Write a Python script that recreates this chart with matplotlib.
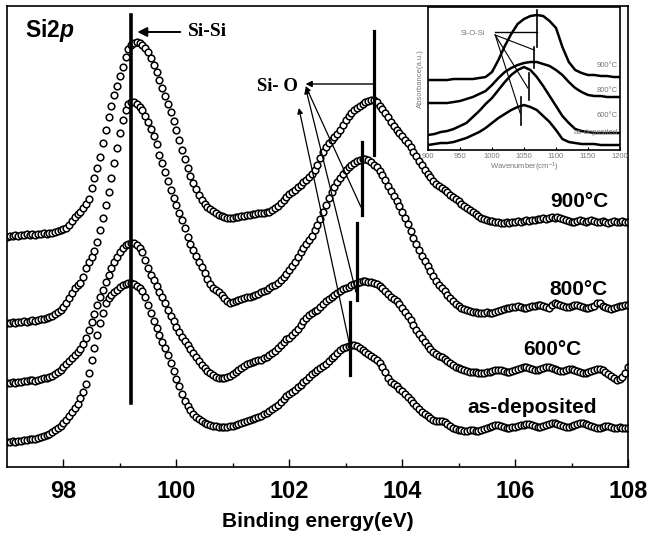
import numpy as np
import matplotlib.pyplot as plt

plt.rcParams['font.family'] = ['Liberation Sans', 'DejaVu Sans']
plt.rcParams['mathtext.fontset'] = 'custom'
plt.rcParams['mathtext.rm'] = 'Liberation Sans'
plt.rcParams['mathtext.it'] = 'Liberation Sans:italic:bold'

# Si2p XPS spectra, 97-108 eV in 0.05 eV steps (one row = 1 eV), intensity a.u.
xps_900 = [
    230, 231, 231, 232, 231, 232, 232, 233, 232, 233, 232, 233, 233, 234, 233, 234, 234, 235, 236, 237,
    238, 239, 242, 246, 250, 253, 255, 259, 263, 268, 279, 289, 299, 310, 324, 337, 350, 361, 372, 381,
    391, 400, 410, 418, 422, 424, 425, 424, 422, 419, 415, 409, 402, 395, 387, 379, 371, 363, 355, 346,
    337, 327, 317, 308, 299, 291, 284, 278, 272, 267, 263, 260, 258, 256, 254, 252, 251, 250, 249, 249,
    249, 250, 250, 251, 251, 252, 252, 253, 253, 254, 254, 254, 255, 255, 257, 259, 261, 264, 267, 270,
    273, 275, 277, 280, 282, 285, 287, 290, 293, 297, 302, 309, 315, 320, 324, 327, 330, 333, 337, 342,
    347, 351, 354, 357, 359, 361, 363, 365, 366, 367, 367, 365, 361, 358, 354, 350, 345, 341, 337, 334,
    331, 327, 324, 320, 315, 311, 306, 302, 297, 293, 290, 286, 283, 281, 279, 277, 275, 272, 270, 268,
    266, 263, 261, 259, 257, 255, 253, 251, 249, 248, 247, 246, 246, 245, 245, 244, 244, 245, 244, 245,
    245, 246, 245, 246, 247, 246, 247, 247, 248, 248, 249, 248, 249, 250, 249, 250, 249, 248, 247, 246,
    245, 245, 246, 247, 246, 245, 246, 247, 246, 245, 245, 246, 245, 244, 245, 246, 245, 245, 246, 245,
    245]
xps_800 = [
    144, 144, 145, 144, 145, 145, 146, 145, 146, 147, 146, 147, 148, 148, 149, 150, 151, 153, 155, 157,
    160, 164, 169, 174, 179, 182, 184, 190, 199, 205, 210, 216, 225, 237, 249, 262, 275, 289, 304, 319,
    334, 347, 357, 363, 365, 365, 363, 360, 357, 351, 345, 338, 331, 323, 312, 304, 295, 286, 277, 269,
    262, 254, 247, 239, 230, 223, 217, 211, 205, 200, 194, 188, 183, 179, 177, 175, 172, 169, 166, 164,
    165, 166, 167, 168, 169, 170, 170, 171, 172, 173, 175, 176, 177, 179, 181, 182, 184, 187, 190, 193,
    197, 201, 205, 210, 215, 219, 223, 227, 231, 237, 242, 248, 255, 262, 269, 275, 280, 285, 289, 293,
    297, 300, 302, 304, 306, 307, 308, 308, 307, 305, 302, 300, 296, 292, 287, 281, 276, 271, 266, 261,
    255, 249, 243, 236, 229, 223, 217, 211, 206, 201, 196, 191, 186, 182, 179, 176, 172, 169, 166, 163,
    161, 159, 158, 157, 156, 155, 155, 154, 154, 154, 155, 154, 154, 155, 156, 157, 158, 159, 159, 160,
    160, 161, 160, 159, 159, 160, 161, 161, 162, 162, 161, 160, 159, 162, 164, 163, 162, 161, 160, 160,
    161, 162, 162, 161, 160, 159, 159, 160, 161, 164, 164, 161, 160, 159, 158, 159, 160, 161, 161, 162,
    162]
xps_600 = [
    84, 84, 85, 84, 85, 85, 86, 86, 87, 87, 86, 87, 88, 89, 89, 90, 91, 93, 95, 97,
    100, 103, 106, 109, 112, 115, 118, 123, 129, 137, 145, 153, 162, 170, 177, 185, 192, 199, 205, 210,
    215, 219, 222, 223, 224, 224, 222, 219, 215, 207, 199, 192, 187, 181, 175, 170, 164, 157, 151, 146,
    140, 135, 130, 126, 122, 118, 114, 110, 106, 102, 99, 96, 94, 92, 90, 89, 89, 89, 90, 91,
    93, 95, 97, 99, 101, 103, 104, 105, 106, 107, 107, 109, 110, 112, 114, 116, 119, 122, 125, 128,
    129, 132, 135, 138, 142, 146, 149, 152, 154, 156, 157, 160, 163, 166, 168, 170, 172, 174, 176, 178,
    179, 180, 182, 183, 184, 185, 186, 186, 185, 185, 184, 183, 181, 179, 176, 173, 170, 168, 166, 163,
    159, 155, 151, 147, 142, 137, 133, 129, 125, 121, 118, 115, 113, 111, 110, 108, 106, 104, 102, 100,
    99, 98, 97, 96, 95, 95, 95, 94, 94, 94, 95, 95, 96, 97, 97, 97, 96, 95, 95, 96,
    97, 98, 99, 100, 100, 99, 98, 97, 97, 98, 99, 100, 100, 99, 98, 97, 96, 96, 97, 98,
    98, 97, 96, 95, 94, 94, 95, 96, 97, 98, 98, 97, 95, 93, 91, 89, 87, 88, 90, 94,
    100]
xps_asdep = [
    25, 25, 26, 25, 26, 26, 27, 27, 28, 28, 28, 29, 30, 31, 32, 33, 35, 37, 39, 41,
    44, 47, 51, 55, 59, 63, 69, 75, 83, 94, 107, 119, 132, 144, 154, 164, 169, 172, 175, 177,
    180, 182, 183, 184, 184, 183, 181, 179, 176, 170, 162, 154, 146, 139, 132, 125, 119, 112, 104, 96,
    88, 81, 73, 66, 61, 57, 53, 50, 48, 46, 44, 43, 42, 41, 41, 40, 40, 40, 40, 41,
    41, 42, 43, 44, 45, 46, 47, 48, 49, 50, 51, 53, 54, 56, 58, 60, 62, 65, 68, 71,
    73, 75, 77, 80, 82, 85, 87, 90, 93, 95, 97, 99, 101, 103, 106, 109, 111, 114, 117, 119,
    120, 121, 122, 122, 121, 119, 117, 115, 113, 111, 109, 107, 104, 100, 95, 89, 85, 83, 81, 78,
    76, 73, 70, 67, 64, 61, 58, 55, 53, 51, 49, 47, 46, 46, 46, 45, 43, 41, 39, 38,
    37, 37, 36, 36, 37, 37, 36, 36, 37, 38, 39, 40, 41, 42, 42, 41, 40, 39, 39, 40,
    40, 41, 42, 42, 43, 43, 42, 41, 40, 40, 41, 42, 43, 44, 44, 43, 42, 41, 40, 40,
    41, 42, 43, 44, 44, 43, 42, 41, 40, 39, 39, 40, 41, 41, 40, 39, 39, 40, 39, 39,
    39]

sample_labels = ['900°C', '800°C', '600°C', 'as-deposited']
label_xy = [(107.14, 265), (107.12, 177), (106.66, 117), (106.31, 60)]

sisi_energy = 99.2
sio_energy = [103.50, 103.29, 103.20, 103.07]
sio_span = [(312, 436), (252, 325), (167, 244), (92, 165)]

# inset: FTIR absorbance, 900-1200 cm-1 in 10 cm-1 steps
wavenumber = np.arange(900, 1201, 10)
ftir_900 = [70, 70, 70, 70, 71, 71, 71, 71, 72, 73, 78, 90, 104, 116, 126, 131, 134, 135, 134, 129,
            122, 103, 88, 80, 77, 75, 75, 74, 74, 73, 73]
ftir_800 = [47, 47, 47, 47, 48, 49, 51, 53, 56, 59, 65, 72, 78, 82, 85, 87, 88, 88, 86, 84,
            80, 75, 68, 62, 58, 55, 54, 54, 53, 53, 53]
ftir_600 = [15, 16, 18, 19, 21, 24, 27, 33, 39, 46, 52, 60, 68, 75, 80, 83, 80, 73, 64, 54,
            44, 34, 27, 21, 19, 18, 17, 17, 17, 17, 17]
ftir_asdep = [5, 6, 7, 7, 8, 10, 12, 15, 18, 22, 27, 32, 36, 40, 43, 45, 43, 40, 34, 28,
              20, 11, 8, 7, 6, 6, 6, 5, 5, 5, 5]
ftir_label_y = [85, 60, 35, 18]
sios_wn = [1070, 1066, 1058, 1045]
sios_span = [(103, 140), (82, 103), (50, 77), (25, 53)]

fig = plt.figure(figsize=(6.47, 5.35), dpi=100)
ax = fig.add_axes([0.0108, 0.1271, 0.9598, 0.8617])

for series in [xps_900, xps_800, xps_600, xps_asdep]:
    energy = np.linspace(97.0, 108.0, len(series))
    ax.plot(energy, series, ls='none', marker='o', ms=4.8, mfc='white', mec='black', mew=1.1)

ax.set_xlim(97, 108)
ax.set_ylim(0, 461)
ax.set_yticks([])
ax.set_xticks(np.arange(98, 109, 2))
ax.set_xticks(np.arange(99, 108, 2), minor=True)
ax.tick_params(axis='x', which='major', direction='in', length=6, width=1, labelsize=17, pad=9)
ax.tick_params(axis='x', which='minor', direction='in', length=3, width=1)
for lbl in ax.get_xticklabels():
    lbl.set_fontweight('bold')
ax.set_xlabel('Binding energy(eV)', fontsize=15, fontweight='bold', labelpad=7)
for sp in ax.spines.values():
    sp.set_linewidth(1.2)

# peak position markers
ax.plot([sisi_energy, sisi_energy], [64, 452], color='black', lw=2.6)
for e, (lo, hi) in zip(sio_energy, sio_span):
    ax.plot([e, e], [lo, hi], color='black', lw=2.3)

ax.annotate('', xy=(99.31, 435), xytext=(100.07, 435),
            arrowprops=dict(arrowstyle='-|>', color='black', lw=1.4, mutation_scale=14,
                            shrinkA=0, shrinkB=0))
ax.text(100.2, 435, 'Si-Si', fontsize=14, fontweight='bold', family='Liberation Serif',
        ha='left', va='center')

ax.annotate('', xy=(102.29, 383), xytext=(103.50, 383),
            arrowprops=dict(arrowstyle='-|>', color='black', lw=1.0, mutation_scale=9,
                            shrinkA=0, shrinkB=0))
ax.text(102.16, 380, 'Si- O', fontsize=13.5, fontweight='bold', family='Liberation Serif',
        ha='right', va='center')
for tail, head in [((103.27, 260), (102.29, 381)), ((103.18, 175), (102.29, 379)),
                   ((103.07, 122), (102.17, 359))]:
    ax.annotate('', xy=head, xytext=tail,
                arrowprops=dict(arrowstyle='-|>', color='black', lw=0.9, mutation_scale=8,
                                shrinkA=0, shrinkB=0))

for txt, (x, y) in zip(sample_labels, label_xy):
    ax.text(x, y, txt, fontsize=15, fontweight='bold', ha='center', va='center')
ax.text(97.32, 436, 'Si2$p$', fontsize=16.5, fontweight='bold', ha='left', va='center')

# inset
axin = fig.add_axes([0.6615, 0.7196, 0.2968, 0.2673])
for series in [ftir_900, ftir_800, ftir_600, ftir_asdep]:
    axin.plot(wavenumber, series, color='black', lw=1.8)
axin.set_xlim(900, 1200)
axin.set_ylim(0, 143)
axin.set_yticks([])
axin.set_xticks(np.arange(900, 1201, 50))
axin.tick_params(axis='x', direction='in', length=2, labelsize=5.5, labelcolor='#777777', pad=2)
axin.set_xlabel('Wavenumber(cm$^{-1}$)', fontsize=5.5, color='#777777', labelpad=0.5)
axin.set_ylabel('Absorbance(a.u.)', fontsize=5.5, color='#777777', labelpad=3)
for sp in axin.spines.values():
    sp.set_linewidth(1.2)

for wn, (lo, hi) in zip(sios_wn, sios_span):
    axin.plot([wn, wn], [lo, hi], color='black', lw=1.2)
axin.plot([1070, 1005], [118, 118], color='black', lw=1.0)
for end in [(1066, 100), (1056, 62), (1044, 37)]:
    axin.plot([1005, end[0]], [115, end[1]], color='black', lw=0.8)
axin.text(970, 117, 'Si-O-Si', fontsize=5.5, color='#777777', ha='center', va='center')
for txt, y in zip(sample_labels, ftir_label_y):
    axin.text(1197, y, txt, fontsize=5.5, color='#777777', ha='right', va='center')

fig.savefig('out.png', dpi=100)
